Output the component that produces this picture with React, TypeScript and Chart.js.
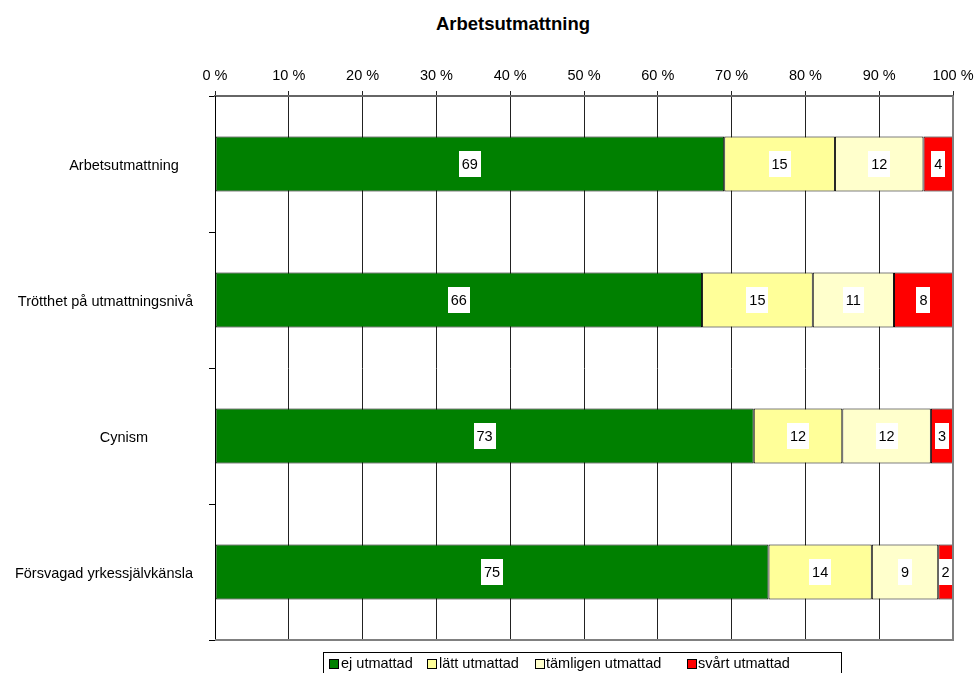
import React, { useEffect, useRef } from "react";
import { Chart, registerables } from "chart.js";

Chart.register(...registerables);

const title = "Arbetsutmattning";
const categories = [
  "Arbetsutmattning",
  "Trötthet på utmattningsnivå",
  "Cynism",
  "Försvagad yrkessjälvkänsla",
];
const seriesNames = ["ej utmattad", "lätt utmattad", "tämligen utmattad", "svårt utmattad"];
const ejUtmattad = [69, 66, 73, 75];
const lattUtmattad = [15, 15, 12, 14];
const tamligenUtmattad = [12, 11, 12, 9];
const svartUtmattad = [4, 8, 3, 2];
const seriesColors = ["#008000", "#FFFF99", "#FFFFCC", "#FF0000"];
const xTicks = [0, 10, 20, 30, 40, 50, 60, 70, 80, 90, 100];

const FONT = "'Liberation Sans', Arial, sans-serif";

const labelPlugin = {
  id: "segLabels",
  afterDatasetsDraw(chart: any) {
    const ctx = chart.ctx;
    ctx.save();
    ctx.font = `14.5px ${FONT}`;
    ctx.textAlign = "center";
    ctx.textBaseline = "middle";
    chart.data.datasets.forEach((ds: any, di: number) => {
      const meta = chart.getDatasetMeta(di);
      meta.data.forEach((el: any, i: number) => {
        const v = ds.data[i];
        const txt = String(v);
        const cx = (el.base + el.x) / 2;
        const cy = el.y;
        const w = ctx.measureText(txt).width + 6;
        const h = 26;
        ctx.fillStyle = "#ffffff";
        ctx.fillRect(Math.round(cx - w / 2), Math.round(cy - h / 2), Math.round(w), h);
        ctx.fillStyle = "#000000";
        ctx.fillText(txt, cx, cy + 1);
      });
    });
    ctx.restore();
  },
};

const catLabelPlugin = {
  id: "catLabels",
  afterDraw(chart: any) {
    const { ctx } = chart;
    const yScale = chart.scales.y;
    ctx.save();
    ctx.font = `14.5px ${FONT}`;
    ctx.fillStyle = "#000";
    ctx.textBaseline = "middle";
    ctx.textAlign = "left";
    const center = 124;
    const maxRight = 193;
    chart.data.labels.forEach((lab: string, i: number) => {
      const w = ctx.measureText(lab).width;
      let left = center - w / 2;
      if (left + w > maxRight) left = maxRight - w;
      ctx.fillText(lab, left, yScale.getPixelForValue(i) + 2);
    });
    ctx.restore();
  },
};

const framePlugin = {
  id: "frame",
  afterDraw(chart: any) {
    const { ctx, chartArea } = chart;
    ctx.save();
    ctx.strokeStyle = "#808080";
    ctx.lineWidth = 2;
    ctx.beginPath();
    ctx.moveTo(chartArea.right, chartArea.top);
    ctx.lineTo(chartArea.right, chartArea.bottom);
    ctx.lineTo(chartArea.left, chartArea.bottom);
    ctx.stroke();
    ctx.restore();
  },
};

export default function App() {
  const ref = useRef<HTMLCanvasElement>(null);
  useEffect(() => {
    if (!ref.current) return;
    const values = [ejUtmattad, lattUtmattad, tamligenUtmattad, svartUtmattad];
    const chart = new Chart(ref.current, {
      type: "bar",
      data: {
        labels: categories,
        datasets: seriesNames.map((n, k) => ({
          label: n,
          data: values[k],
          backgroundColor: seriesColors[k],
          borderColor: "#000000",
          borderWidth: 1,
          borderSkipped: false,
          barPercentage: 0.405,
          categoryPercentage: 1,
        })),
      },
      options: {
        indexAxis: "y",
        responsive: false,
        animation: false,
        layout: { padding: { left: 0, top: 0, right: 22, bottom: 33 } },
        plugins: {
          legend: { display: false },
          title: { display: false },
          tooltip: { enabled: false },
        },
        scales: {
          x: {
            position: "top",
            stacked: true,
            min: 0,
            max: 100,
            afterBuildTicks: (scale: any) => {
              scale.ticks = xTicks.map((v) => ({ value: v }));
            },
            afterFit: (scale: any) => {
              scale.height = 96;
              scale.paddingLeft = 0;
              scale.paddingRight = 0;
            },
            ticks: {
              color: "#000",
              font: { family: FONT, size: 14.5 },
              padding: 6,
              maxRotation: 0,
              callback: (v: any) => `${v} %`,
            },
            grid: { color: "#222", lineWidth: 1, tickLength: 5 },
            border: { color: "#666", width: 2 },
          },
          y: {
            stacked: true,
            afterFit: (scale: any) => {
              scale.width = 215;
              scale.paddingTop = 0;
              scale.paddingBottom = 0;
            },
            ticks: { display: false },
            grid: { drawOnChartArea: false, offset: true, tickLength: 6, color: "#000" },
            border: { color: "#000", width: 1 },
          },
        },
      },
      plugins: [labelPlugin, catLabelPlugin, framePlugin],
    } as any);
    return () => chart.destroy();
  }, []);

  const legendPos = [
    { marker: 328, text: 340 },
    { marker: 426, text: 438 },
    { marker: 534, text: 545 },
    { marker: 686, text: 697 },
  ];

  return (
    <div
      style={{
        position: "fixed",
        left: 0,
        top: 0,
        width: 975,
        height: 673,
        overflow: "hidden",
        background: "#fff",
        fontFamily: FONT,
      }}
    >
      <div
        style={{
          position: "absolute",
          left: 0,
          width: 1026,
          top: 12,
          textAlign: "center",
          fontWeight: "bold",
          fontSize: 18.5,
          lineHeight: "24px",
          color: "#000",
          whiteSpace: "nowrap",
        }}
      >
        {title}
      </div>
      <canvas ref={ref} width={975} height={673} style={{ position: "absolute", left: 0, top: 0 }} />
      <div
        style={{
          position: "absolute",
          left: 323,
          top: 652,
          width: 519,
          height: 30,
          border: "1px solid #000",
          boxSizing: "border-box",
        }}
      >
        {seriesNames.map((n, k) => (
          <React.Fragment key={n}>
            <div
              style={{
                position: "absolute",
                left: legendPos[k].marker - 323,
                top: 6,
                width: 8,
                height: 8,
                background: seriesColors[k],
                border: "1px solid #000",
              }}
            />
            <div
              style={{
                position: "absolute",
                left: legendPos[k].text - 323,
                top: 1,
                fontSize: 14.5,
                lineHeight: "18px",
                color: "#000",
                whiteSpace: "nowrap",
              }}
            >
              {n}
            </div>
          </React.Fragment>
        ))}
      </div>
    </div>
  );
}
